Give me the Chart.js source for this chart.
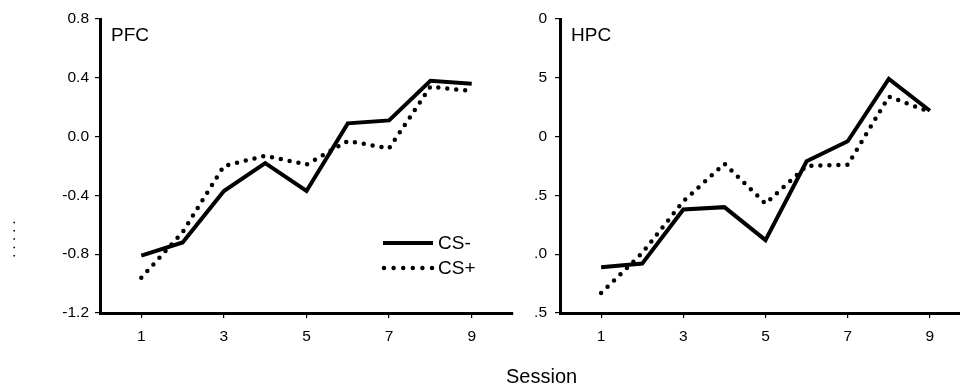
<!DOCTYPE html>
<html>
<head>
<meta charset="utf-8">
<script src="https://cdn.jsdelivr.net/npm/chart.js@4.4.1/dist/chart.umd.min.js"></script>
<style>
  html, body { margin: 0; padding: 0; background: #fff; }
  body { width: 960px; height: 385px; overflow: hidden; position: relative; }
  canvas { position: absolute; top: 0; }
  #left { left: 0; }
  #right { left: 515px; }
  #xtitle {
    position: absolute; left: 506px; top: 366px;
    font: 20px "Liberation Sans", Arial, sans-serif; line-height: 20px; color: #000;
  }
</style>
</head>
<body>
<canvas id="left" width="515" height="385"></canvas>
<canvas id="right" width="460" height="385"></canvas>
<div id="xtitle">Session</div>
<script>
const sessions = [1, 2, 3, 4, 5, 6, 7, 8, 9];
const xTicks = [1, 3, 5, 7, 9];

const pfcCsMinus = [-0.81, -0.72, -0.37, -0.18, -0.37, 0.09, 0.11, 0.38, 0.36];
const pfcCsPlus = [-0.96, -0.65, -0.20, -0.13, -0.19, -0.03, -0.08, 0.34, 0.31];
const pfcYTicks = [-1.2, -0.8, -0.4, 0.0, 0.4, 0.8];

const hpcCsMinus = [-1.11, -1.08, -0.62, -0.60, -0.88, -0.21, -0.04, 0.49, 0.22];
const hpcCsPlus = [-1.33, -0.99, -0.55, -0.23, -0.57, -0.25, -0.24, 0.34, 0.21];
const hpcYTicks = [-1.5, -1.0, -0.5, 0.0, 0.5, 1.0];
const hpcYLabels = [".5", ".0", ".5", "0", "5", "0"];

const FONT = '"Liberation Sans", Arial, sans-serif';
Chart.defaults.font.family = FONT;
Chart.defaults.color = "#000";

function points(ys) {
  return sessions.map((s, i) => ({ x: s, y: ys[i] }));
}

function datasets(minus, plus) {
  return [
    {
      label: "CS-",
      data: points(minus),
      borderColor: "#000",
      borderWidth: 4,
      pointRadius: 0,
      tension: 0,
    },
    {
      label: "CS+",
      data: points(plus),
      borderColor: "#000",
      borderWidth: 4.5,
      borderDash: [0, 9],
      borderCapStyle: "round",
      pointRadius: 0,
      tension: 0,
    },
  ];
}

// panel name + optional legend / y title
function panelPlugin(name, withLegend) {
  return {
    id: "panel" + name,
    afterDraw(chart) {
      const ctx = chart.ctx;
      const a = chart.chartArea;
      ctx.save();
      ctx.fillStyle = "#000";
      ctx.font = "19px " + FONT;
      ctx.textBaseline = "alphabetic";
      ctx.textAlign = "left";
      ctx.fillText(name, a.left + 11, a.top + 22);

      if (withLegend) {
        ctx.strokeStyle = "#000";
        ctx.lineWidth = 4;
        ctx.beginPath();
        ctx.moveTo(383, 243);
        ctx.lineTo(433, 243);
        ctx.stroke();

        ctx.lineWidth = 4.5;
        ctx.lineCap = "round";
        ctx.setLineDash([0, 9.6]);
        ctx.beginPath();
        ctx.moveTo(384, 268);
        ctx.lineTo(433, 268);
        ctx.stroke();
        ctx.setLineDash([]);

        ctx.textBaseline = "middle";
        ctx.fillText("CS-", 438, 244);
        ctx.fillText("CS+", 438, 269);

        // clipped y-axis title, only dots remain
        ctx.translate(15, 239);
        ctx.rotate(-Math.PI / 2);
        ctx.textAlign = "center";
        ctx.textBaseline = "alphabetic";
        ctx.font = "15px " + FONT;
        ctx.fillText(". . . . .", 0, 0);
      }
      ctx.restore();
    },
  };
}

function makeChart(id, minus, plus, yMin, yMax, yTicks, yLabel, yWidth, yPad, name, withLegend) {
  return new Chart(document.getElementById(id), {
    type: "line",
    data: { datasets: datasets(minus, plus) },
    options: {
      responsive: false,
      animation: false,
      devicePixelRatio: 1,
      layout: { padding: { top: 19, right: id === "left" ? 2 : 4, bottom: 0, left: 0 } },
      plugins: { legend: { display: false }, tooltip: { enabled: false } },
      scales: {
        x: {
          type: "linear",
          min: 0,
          max: 10,
          afterBuildTicks: (s) => { s.ticks = xTicks.map((v) => ({ value: v })); },
          afterFit: (s) => { s.height = 72; },
          grid: { drawOnChartArea: false, drawTicks: true, tickLength: 5, color: "#000", lineWidth: 1.2 },
          border: { display: true, color: "#000", width: 3 },
          ticks: { font: { size: 15.5 }, padding: 9, maxRotation: 0, callback: (v) => String(v) },
        },
        y: {
          type: "linear",
          min: yMin,
          max: yMax,
          afterBuildTicks: (s) => { s.ticks = yTicks.map((v) => ({ value: v })); },
          afterFit: (s) => { s.width = yWidth; },
          grid: { drawOnChartArea: false, drawTicks: true, tickLength: 5, color: "#000", lineWidth: 1.2 },
          border: { display: true, color: "#000", width: 3 },
          ticks: { font: { size: 15.5 }, padding: yPad, callback: yLabel },
        },
      },
    },
    plugins: [panelPlugin(name, withLegend)],
  });
}

makeChart("left", pfcCsMinus, pfcCsPlus, -1.2, 0.8, pfcYTicks,
  (v) => Number(v).toFixed(1), 100, 6, "PFC", true);
makeChart("right", hpcCsMinus, hpcCsPlus, -1.5, 1.0, hpcYTicks,
  (v, i) => hpcYLabels[i], 45, 8, "HPC", false);
</script>
</body>
</html>
